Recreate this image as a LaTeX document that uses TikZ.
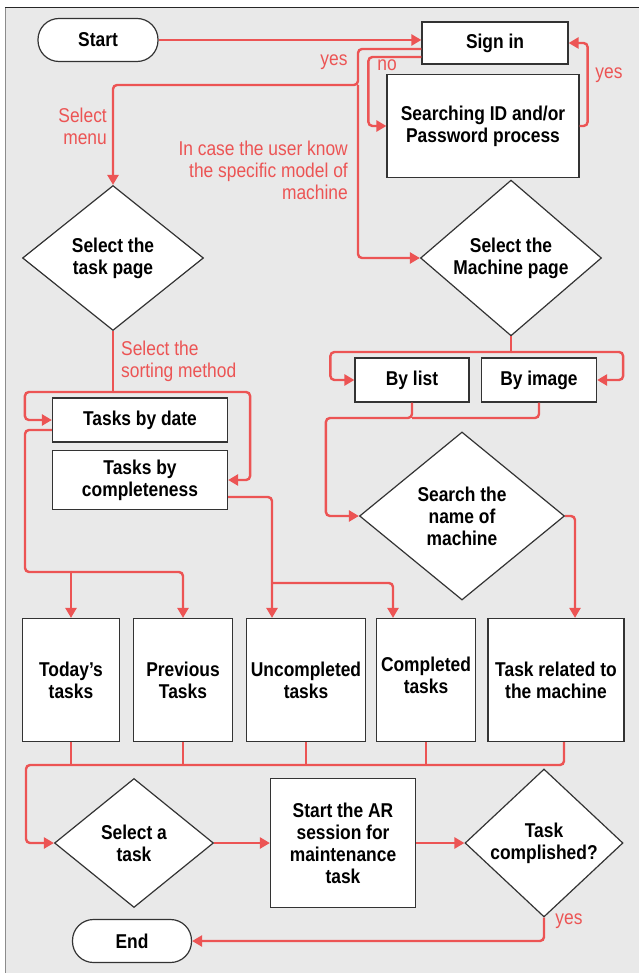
\documentclass[tikz,border=0pt]{standalone}
\usepackage{fontspec}
\setmainfont{Liberation Sans}[FakeStretch=0.87]
\usetikzlibrary{shapes.geometric,arrows.meta,positioning}
\definecolor{flowred}{RGB}{236,84,84}
\definecolor{bggray}{RGB}{233,233,233}
\tikzset{
  box/.style={draw=black!80, fill=white, line width=1.2pt, align=center, inner sep=0pt,
    font=\bfseries\fontsize{20}{22}\selectfont},
  pill/.style={box, rounded corners=21pt},
  choice/.style={box, diamond},
  link/.style={draw=flowred, line width=2.4pt, rounded corners=4pt},
  flow/.style={link, -{Triangle[length=10pt,width=11pt]}},
  note/.style={text=flowred, inner sep=0pt, font=\fontsize{20}{22}\selectfont},
}
\begin{document}
\begin{tikzpicture}[x=1pt,y=-1pt]
	
	\useasboundingbox (0,0) rectangle (639,973);
	\fill[bggray] (5,8) rectangle (639,973);
	\draw[black!45, line width=1pt] (5,973) -- (5,8);
	\draw[black!85, line width=1pt] (5,8) -- (639,8);
	
	% Sign in part
	\node[pill, minimum width=120pt, minimum height=43pt] (start) at (98,40) {Start};
	\node[box, minimum width=146pt, minimum height=42pt] (signin) at (495,43) {Sign in};
	\node[box, minimum width=192pt, minimum height=103pt] (idsearch) at (483,126) {Searching ID and/or\\Password process};
	
	% Pages
	\node[choice, minimum width=181pt, minimum height=145pt] (taskpage) at (113,258) {Select the\\task page};
	\node[choice, minimum width=181pt, minimum height=145pt] (machpage) at (511,258) {Select the\\Machine page};
	
	% Sorting and viewing
	\node[box, minimum width=114pt, minimum height=44pt] (bylist) at (412,380) {By list};
	\node[box, minimum width=115pt, minimum height=44pt] (byimage) at (539,380) {By image};
	\node[box, minimum width=175pt, minimum height=44pt] (bydate) at (140,420) {Tasks by date};
	\node[box, minimum width=175pt, minimum height=59pt] (bycomp) at (140,480) {Tasks by\\completeness};
	\node[choice, minimum width=205pt, minimum height=168pt] (namesearch) at (462,516) {Search the\\name of\\machine};
	
	% Task lists
	\node[box, minimum width=97pt, minimum height=123pt] (today) at (71,680) {Today’s\\tasks};
	\node[box, minimum width=99pt, minimum height=123pt] (previous) at (183,680) {Previous\\Tasks};
	\node[box, minimum width=119pt, minimum height=123pt] (uncomp) at (306,680) {Uncompleted\\tasks};
	\node[box, minimum width=99pt, minimum height=123pt] (comp) at (426,680) {Completed\\tasks\\[-12pt]};
	\node[box, minimum width=136pt, minimum height=123pt] (related) at (556,680) {Task related to\\the machine};
	
	% Maintenance
	\node[choice, minimum width=159pt, minimum height=129pt] (selecttask) at (134,843) {Select a\\task};
	\node[box, minimum width=145pt, minimum height=129pt] (arsession) at (343,843) {Start the AR\\session for\\maintenance\\task};
	\node[choice, minimum width=158pt, minimum height=129pt] (done) at (544,843) {Task\\complished?};
	\node[pill, minimum width=119pt, minimum height=43pt] (finish) at (132,941) {End};
	
	% Sign in arrows
	\draw[flow] (start.east) -- (start.east -| signin.west);
	\coordinate (yesbend) at (358,85);
	\draw[flow] ([yshift=-6pt]signin.west) -| (yesbend) -| (taskpage.north);
	\draw[flow] (yesbend) |- (machpage.west);
	\draw[flow] ([yshift=-14pt]signin.west) -- ++(-53,0) |- (idsearch.west);
	\draw[flow] (idsearch.east) -- ++(8,0) |- (signin.east);
	
	% Sorting method
	\coordinate (sortsplit) at (113,392);
	\draw[link] (taskpage.south) -- (sortsplit);
	\draw[flow] (sortsplit) -| ([xshift=-27pt]bydate.west) -- (bydate.west);
	\draw[flow] (sortsplit) -| ([xshift=22pt]bycomp.east) -- (bycomp.east);
	
	% Viewing method
	\coordinate (viewsplit) at (511,352);
	\draw[link] (machpage.south) -- (viewsplit);
	\draw[flow] (viewsplit) -| ([xshift=-24pt]bylist.west) -- (bylist.west);
	\draw[flow] (viewsplit) -| ([xshift=26pt]byimage.east) -- (byimage.east);
	\coordinate (viewjoin) at (412,418);
	\draw[link] (byimage.south) |- (viewjoin);
	\draw[flow] (bylist.south) -- (viewjoin) -| ([xshift=-33pt]namesearch.west) -- (namesearch.west);
	\draw[flow] (namesearch.east) -| ([xshift=19pt]related.north);
	
	% Into the task lists
	\coordinate (datesplit) at (71,572);
	\draw[link] ([yshift=-10pt]bydate.west) -| (25,572) -- (datesplit);
	\draw[flow] (datesplit) -- (today.north);
	\draw[flow] (datesplit) -| (previous.north);
	\coordinate (compsplit) at (272,583);
	\draw[flow] ([yshift=-17pt]bycomp.east) -| ([xshift=-34pt]uncomp.north);
	\draw[flow] (compsplit) -| ([xshift=-33pt]comp.north);
	
	% Back to one task
	\coordinate (joinline) at (26,765);
	\foreach \n in {today,previous,uncomp,comp}
		\draw[link] (\n.south) -- (\n.south |- joinline);
	\draw[flow] ([xshift=8pt]related.south) |- (joinline) |- (selecttask.west);
	\draw[flow] (selecttask.east) -- (arsession.west);
	\draw[flow] (arsession.east) -- (done.west);
	\draw[flow] (done.south) |- (finish.east);
	
	% Labels
	\node[note] at (334,62) {yes};
	\node[note] at (387,65) {no};
	\node[note] at (609,75) {yes};
	\node[note, anchor=east, align=right] at (107,126) {Select\\menu};
	\node[note, anchor=east, align=right] at (348,170) {In case the user know\\the specific model of\\machine};
	\node[note, anchor=west, align=left] at (121,361) {Select the\\sorting method};
	\node[note] at (569,921) {yes};
	
\end{tikzpicture}
\end{document}
